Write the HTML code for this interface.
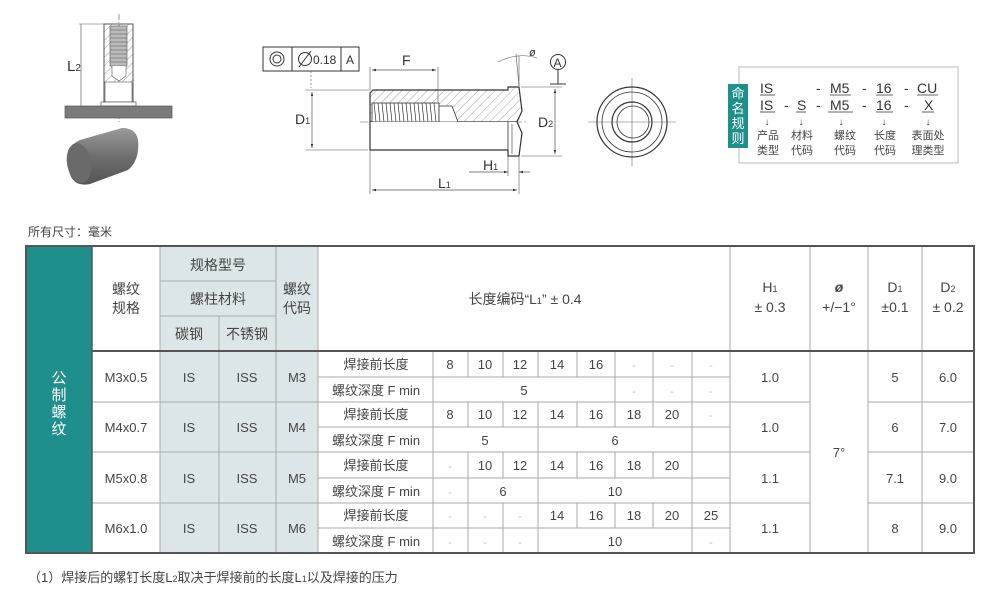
<!DOCTYPE html>
<html><head><meta charset="utf-8">
<style>
html,body{margin:0;padding:0;background:#fff;}
svg{display:block;font-family:"Liberation Sans","Noto Sans CJK SC",sans-serif;}
</style></head>
<body>
<svg width="990" height="592" viewBox="0 0 990 592" xmlns="http://www.w3.org/2000/svg">
<defs>
<pattern id="h" width="6" height="6" patternUnits="userSpaceOnUse" patternTransform="rotate(45)">
<line x1="0" y1="0" x2="0" y2="6" stroke="#888" stroke-width="0.8"/></pattern>
<linearGradient id="cyl" x1="0" y1="0" x2="0" y2="1">
<stop offset="0" stop-color="#9a9a9a"/><stop offset="0.5" stop-color="#6e6e6e"/><stop offset="1" stop-color="#555"/></linearGradient>
<marker id="a" viewBox="0 0 10 10" refX="10" refY="5" markerWidth="6" markerHeight="6" orient="auto-start-reverse"><path d="M0,2 L10,5 L0,8z" fill="#333"/></marker>
</defs>

<!-- left drawing -->
<line x1="119" y1="14" x2="119" y2="122" stroke="#666" stroke-width="0.7" stroke-dasharray="6,2,1,2"/>
<rect x="104" y="24" width="29" height="78" fill="url(#h)" stroke="#555" stroke-width="1"/>
<rect x="110" y="26" width="17" height="40" fill="#bbb" stroke="#555" stroke-width="0.6"/>
<g stroke="#555" stroke-width="0.6">
<line x1="110" y1="30" x2="127" y2="30"/><line x1="110" y1="34" x2="127" y2="34"/><line x1="110" y1="38" x2="127" y2="38"/><line x1="110" y1="42" x2="127" y2="42"/><line x1="110" y1="46" x2="127" y2="46"/><line x1="110" y1="50" x2="127" y2="50"/><line x1="110" y1="54" x2="127" y2="54"/><line x1="110" y1="58" x2="127" y2="58"/><line x1="110" y1="62" x2="127" y2="62"/></g>
<path d="M112,66 L112,76 L119,81 L126,76 L126,66" fill="#fff" stroke="#555" stroke-width="0.6"/>
<rect x="105" y="82" width="27" height="20" fill="#fff" stroke="#555" stroke-width="0.6"/>
<rect x="101" y="102" width="35" height="4" fill="#fff" stroke="#555" stroke-width="0.7"/>
<rect x="65" y="106" width="107" height="12" fill="#7b7b7b" stroke="#555" stroke-width="0.7"/>
<line x1="81" y1="24" x2="81" y2="106" stroke="#666" stroke-width="0.7"/>
<line x1="79" y1="24" x2="104" y2="24" stroke="#666" stroke-width="0.6"/>
<text x="67" y="71" font-size="15" fill="#333">L<tspan font-size="10">2</tspan></text>
<path d="M80,140 L122,128 Q136,128 138,140 Q140,160 128,170 L90,184 Q70,188 68,165 Q66,146 80,140z" fill="url(#cyl)"/>
<ellipse cx="79" cy="163" rx="12" ry="20" fill="#6a6a6a" transform="rotate(-10 79 163)"/>

<!-- frame box -->
<rect x="263" y="47" width="96" height="24" fill="#fff" stroke="#333" stroke-width="1"/>
<line x1="292" y1="47" x2="292" y2="71" stroke="#333"/><line x1="341" y1="47" x2="341" y2="71" stroke="#333"/>
<circle cx="277" cy="59" r="7" fill="none" stroke="#333"/><circle cx="277" cy="59" r="4" fill="none" stroke="#333"/>
<circle cx="305" cy="59" r="6.5" fill="none" stroke="#333"/><line x1="299" y1="67" x2="311" y2="51" stroke="#333"/>
<text x="313" y="64" font-size="12" fill="#333">0.18</text>
<text x="346" y="64" font-size="12" fill="#333">A</text>
<line x1="311" y1="71" x2="311" y2="88" stroke="#555" stroke-width="0.6" stroke-dasharray="2,2"/>

<!-- side view -->
<line x1="360" y1="122" x2="528" y2="122" stroke="#666" stroke-width="0.6" stroke-dasharray="8,2,2,2"/>
<path d="M370,93 L373,90 L508,90 L508,87 L519,87 L522,111 L517,122 L370,122z" fill="url(#h)" stroke="#333" stroke-width="1.2"/>
<rect x="372" y="103" width="67" height="19" fill="#fff" stroke="#333" stroke-width="0.8"/>
<g stroke="#333" stroke-width="0.7">
<path d="M374,103 L376,122 M378,103 L380,122 M382,103 L384,122 M386,103 L388,122 M390,103 L392,122 M394,103 L396,122 M398,103 L400,122 M402,103 L404,122 M406,103 L408,122 M410,103 L412,122 M414,103 L416,122 M418,103 L420,122 M422,103 L424,122 M426,103 L428,122 M430,103 L432,122 M434,103 L436,122"/></g>
<path d="M439,106 L452,106 L458,122 L439,122z" fill="#fff" stroke="#333" stroke-width="0.8"/>
<path d="M370,122 L370,150 L508,150 L508,156 L519,156 L522,133 L517,122" fill="#fff" stroke="#333" stroke-width="1.2"/>
<line x1="508" y1="122" x2="508" y2="156" stroke="#333" stroke-width="0.8"/>
<line x1="512" y1="124" x2="512" y2="154" stroke="#333" stroke-width="0.6"/>
<!-- D1 -->
<line x1="305" y1="90" x2="370" y2="90" stroke="#555" stroke-width="0.6"/>
<line x1="305" y1="150" x2="368" y2="150" stroke="#555" stroke-width="0.6"/>
<line x1="312" y1="92" x2="312" y2="148" stroke="#555" stroke-width="0.7" marker-start="url(#a)" marker-end="url(#a)"/>
<text x="295" y="124" font-size="14" fill="#333">D<tspan font-size="9">1</tspan></text>
<!-- D2 -->
<line x1="521" y1="87" x2="562" y2="87" stroke="#555" stroke-width="0.6"/>
<line x1="521" y1="156" x2="562" y2="156" stroke="#555" stroke-width="0.6"/>
<line x1="555" y1="89" x2="555" y2="154" stroke="#555" stroke-width="0.7" marker-start="url(#a)" marker-end="url(#a)"/>
<text x="538" y="127" font-size="14" fill="#333">D<tspan font-size="9">2</tspan></text>
<!-- F -->
<line x1="370" y1="67" x2="370" y2="90" stroke="#555" stroke-width="0.6"/>
<line x1="438" y1="67" x2="438" y2="103" stroke="#555" stroke-width="0.6"/>
<line x1="372" y1="70" x2="436" y2="70" stroke="#555" stroke-width="0.7" marker-start="url(#a)" marker-end="url(#a)"/>
<text x="402" y="65" font-size="14" fill="#333">F</text>
<!-- L1 -->
<line x1="370" y1="150" x2="370" y2="194" stroke="#555" stroke-width="0.6"/>
<line x1="519" y1="156" x2="519" y2="194" stroke="#555" stroke-width="0.6"/>
<line x1="508" y1="156" x2="508" y2="176" stroke="#555" stroke-width="0.6"/>
<line x1="372" y1="190" x2="517" y2="190" stroke="#555" stroke-width="0.7" marker-start="url(#a)" marker-end="url(#a)"/>
<text x="438" y="188" font-size="14" fill="#333">L<tspan font-size="9">1</tspan></text>
<!-- H1 -->
<line x1="469" y1="172" x2="508" y2="172" stroke="#555" stroke-width="0.7" marker-end="url(#a)"/>
<line x1="530" y1="172" x2="519" y2="172" stroke="#555" stroke-width="0.7" marker-end="url(#a)"/>
<text x="483" y="170" font-size="14" fill="#333">H<tspan font-size="9">1</tspan></text>
<!-- angle -->
<line x1="516" y1="54" x2="519" y2="86" stroke="#555" stroke-width="0.6"/>
<line x1="519" y1="56" x2="519" y2="86" stroke="#555" stroke-width="0.6"/>
<path d="M498,62 Q518,52 537,58" fill="none" stroke="#555" stroke-width="0.6"/>
<text x="529" y="56" font-size="11" fill="#333" font-style="italic">ø</text>
<circle cx="558" cy="62" r="7.5" fill="none" stroke="#333"/>
<text x="553.5" y="67" font-size="12" fill="#333">A</text>
<line x1="558" y1="70" x2="558" y2="84" stroke="#333"/><line x1="550" y1="84" x2="566" y2="84" stroke="#333"/>
<!-- end view -->
<line x1="588" y1="122" x2="676" y2="122" stroke="#666" stroke-width="0.6"/>
<line x1="632" y1="78" x2="632" y2="166" stroke="#666" stroke-width="0.6"/>
<circle cx="632" cy="122" r="35" fill="none" stroke="#333" stroke-width="1.2"/>
<circle cx="632" cy="122" r="30" fill="none" stroke="#333" stroke-width="0.8"/>
<circle cx="632" cy="122" r="20" fill="none" stroke="#333" stroke-width="1.2"/>
<circle cx="633" cy="122" r="16" fill="none" stroke="#333" stroke-width="0.8"/>

<!-- naming box -->
<rect x="739" y="67" width="219" height="96" fill="#fff" stroke="#bbb" stroke-width="1"/>
<rect x="728" y="84" width="20" height="64" fill="#1f8f8c"/>
<g font-size="13" fill="#fff" text-anchor="middle" font-family="Liberation Sans,Noto Sans CJK SC,sans-serif">
<text x="738" y="98">命</text><text x="738" y="113">名</text><text x="738" y="128">规</text><text x="738" y="143">则</text></g>
<g font-size="14" fill="#333">
<text x="760" y="93">IS</text><text x="816" y="93">-</text><text x="830" y="93">M5</text><text x="862" y="93">-</text><text x="876" y="93">16</text><text x="904" y="93">-</text><text x="917" y="93">CU</text>
<text x="760" y="110">IS</text><text x="784" y="110">-</text><text x="797" y="110">S</text><text x="816" y="110">-</text><text x="830" y="110">M5</text><text x="862" y="110">-</text><text x="876" y="110">16</text><text x="904" y="110">-</text><text x="924" y="110">X</text></g>
<g stroke="#333" stroke-width="0.8">
<line x1="760" y1="95" x2="775" y2="95"/><line x1="830" y1="95" x2="851" y2="95"/><line x1="876" y1="95" x2="893" y2="95"/><line x1="917" y1="95" x2="938" y2="95"/>
<line x1="760" y1="112" x2="775" y2="112"/><line x1="796" y1="112" x2="806" y2="112"/><line x1="828" y1="112" x2="853" y2="112"/><line x1="876" y1="112" x2="893" y2="112"/><line x1="922" y1="112" x2="934" y2="112"/></g>
<g font-size="10" fill="#333" text-anchor="middle"><text x="767" y="125">↓</text><text x="801" y="125">↓</text><text x="841" y="125">↓</text><text x="884" y="125">↓</text><text x="928" y="125">↓</text></g>
<g font-size="11" fill="#444" text-anchor="middle">
<text x="768" y="139">产品</text><text x="768" y="154">类型</text>
<text x="802" y="139">材料</text><text x="802" y="154">代码</text>
<text x="845" y="139">螺纹</text><text x="845" y="154">代码</text>
<text x="885" y="139">长度</text><text x="885" y="154">代码</text>
<text x="928" y="139">表面处</text><text x="928" y="154">理类型</text></g>

<text x="28" y="236" font-size="12" fill="#444">所有尺寸：毫米</text>

<!-- table -->
<rect x="26" y="246" width="66" height="307" fill="#1f8f8c"/>
<rect x="160" y="246" width="158" height="307" fill="#dce6e8"/>
<g stroke="#aaa" stroke-width="1" fill="none">
<line x1="160" y1="246" x2="160" y2="553"/><line x1="219" y1="316" x2="219" y2="553"/><line x1="276" y1="246" x2="276" y2="553"/><line x1="318" y1="246" x2="318" y2="553"/>
<line x1="160" y1="281" x2="276" y2="281"/><line x1="160" y1="316" x2="276" y2="316"/>
<line x1="730" y1="246" x2="730" y2="553"/><line x1="810" y1="246" x2="810" y2="553"/><line x1="868" y1="246" x2="868" y2="553"/><line x1="922" y1="246" x2="922" y2="553"/>
<line x1="92" y1="402" x2="810" y2="402"/><line x1="92" y1="452" x2="810" y2="452"/><line x1="92" y1="503" x2="810" y2="503"/>
<line x1="868" y1="402" x2="974" y2="402"/><line x1="868" y1="452" x2="974" y2="452"/><line x1="868" y1="503" x2="974" y2="503"/>
<line x1="318" y1="377" x2="730" y2="377"/><line x1="318" y1="427" x2="730" y2="427"/><line x1="318" y1="478" x2="730" y2="478"/><line x1="318" y1="528" x2="730" y2="528"/>
<line x1="433" y1="351" x2="433" y2="553"/>
<!-- top rows separators -->
<path d="M468,351V377 M503,351V377 M538,351V377 M577,351V377 M615,351V402 M653,351V402 M692,351V402"/>
<path d="M468,402V427 M503,402V427 M538,402V478 M577,402V427 M615,402V427 M653,402V427 M692,402V453"/>
<path d="M468,452V503 M503,452V478 M538,452V503 M577,452V478 M615,452V478 M653,452V478 M692,452V503"/>
<path d="M468,503V553 M503,503V553 M538,503V553 M577,503V528 M615,503V528 M653,503V528 M692,503V553"/>
</g>
<line x1="92" y1="351" x2="974" y2="351" stroke="#555" stroke-width="2"/>
<line x1="92" y1="246" x2="92" y2="553" stroke="#555" stroke-width="1.5"/>
<rect x="26" y="246" width="948" height="307" fill="none" stroke="#555" stroke-width="2"/>

<g font-size="14" fill="#444" text-anchor="middle" font-family="Liberation Sans,Noto Sans CJK SC,sans-serif">
<text x="126" y="294">螺纹</text><text x="126" y="313">规格</text>
<text x="218" y="270">规格型号</text><text x="218" y="304">螺柱材料</text>
<text x="189" y="339">碳钢</text><text x="247" y="339">不锈钢</text>
<text x="297" y="294">螺纹</text><text x="297" y="313">代码</text>
<text x="525" y="304">长度编码“L<tspan font-size="9">1</tspan>” ± 0.4</text>
<text x="770" y="292">H<tspan font-size="9">1</tspan></text><text x="770" y="312">± 0.3</text>
<text x="839" y="292" font-style="italic" font-weight="bold">ø</text><text x="839" y="312">+/−1°</text>
<text x="895" y="292">D<tspan font-size="9">1</tspan></text><text x="895" y="312">±0.1</text>
<text x="948" y="292">D<tspan font-size="9">2</tspan></text><text x="948" y="312">± 0.2</text>
</g>
<g font-size="15" fill="#fff" text-anchor="middle"><text x="59" y="383">公</text><text x="59" y="400">制</text><text x="59" y="417">螺</text><text x="59" y="434">纹</text></g>

<g font-size="13" fill="#444" text-anchor="middle">
<text x="126" y="382">M3x0.5</text><text x="189" y="382">IS</text><text x="247" y="382">ISS</text><text x="297" y="382">M3</text>
<text x="126" y="432">M4x0.7</text><text x="189" y="432">IS</text><text x="247" y="432">ISS</text><text x="297" y="432">M4</text>
<text x="126" y="483">M5x0.8</text><text x="189" y="483">IS</text><text x="247" y="483">ISS</text><text x="297" y="483">M5</text>
<text x="126" y="533">M6x1.0</text><text x="189" y="533">IS</text><text x="247" y="533">ISS</text><text x="297" y="533">M6</text>
<text x="770" y="382">1.0</text><text x="770" y="432">1.0</text><text x="770" y="483">1.1</text><text x="770" y="533">1.1</text>
<text x="839" y="457">7°</text>
<text x="895" y="382">5</text><text x="948" y="382">6.0</text>
<text x="895" y="432">6</text><text x="948" y="432">7.0</text>
<text x="895" y="483">7.1</text><text x="948" y="483">9.0</text>
<text x="895" y="533">8</text><text x="948" y="533">9.0</text>
</g>
<g font-size="13" fill="#444" text-anchor="middle" font-family="Liberation Sans,Noto Sans CJK SC,sans-serif">
<text x="376" y="369">焊接前长度</text><text x="376" y="395">螺纹深度 F min</text>
<text x="376" y="419">焊接前长度</text><text x="376" y="445">螺纹深度 F min</text>
<text x="376" y="470">焊接前长度</text><text x="376" y="496">螺纹深度 F min</text>
<text x="376" y="520">焊接前长度</text><text x="376" y="546">螺纹深度 F min</text>
</g>
<g font-size="13" fill="#444" text-anchor="middle">
<text x="450" y="369">8</text><text x="485" y="369">10</text><text x="520" y="369">12</text><text x="557" y="369">14</text><text x="596" y="369">16</text>
<text x="524" y="395">5</text>
<text x="450" y="419">8</text><text x="485" y="419">10</text><text x="520" y="419">12</text><text x="557" y="419">14</text><text x="596" y="419">16</text><text x="634" y="419">18</text><text x="672" y="419">20</text>
<text x="485" y="445">5</text><text x="615" y="445">6</text>
<text x="485" y="470">10</text><text x="520" y="470">12</text><text x="557" y="470">14</text><text x="596" y="470">16</text><text x="634" y="470">18</text><text x="672" y="470">20</text>
<text x="503" y="496">6</text><text x="615" y="496">10</text>
<text x="557" y="520">14</text><text x="596" y="520">16</text><text x="634" y="520">18</text><text x="672" y="520">20</text><text x="711" y="520">25</text>
<text x="615" y="546">10</text>
</g>
<g font-size="11" fill="#bbb" text-anchor="middle">
<text x="634" y="369">-</text><text x="672" y="369">-</text><text x="711" y="369">-</text>
<text x="634" y="395">-</text><text x="672" y="395">-</text><text x="711" y="395">-</text>
<text x="711" y="419">-</text>
<text x="450" y="470">-</text><text x="450" y="496">-</text>
<text x="450" y="520">-</text><text x="485" y="520">-</text><text x="520" y="520">-</text>
<text x="450" y="546">-</text><text x="485" y="546">-</text><text x="520" y="546">-</text><text x="711" y="546">-</text>
</g>

<text x="28" y="582" font-size="13" fill="#444" font-family="Liberation Sans,Noto Sans CJK SC,sans-serif">（1）焊接后的螺钉长度L<tspan font-size="9">2</tspan>取决于焊接前的长度L<tspan font-size="9">1</tspan>以及焊接的压力</text>
</svg>
</body></html>
